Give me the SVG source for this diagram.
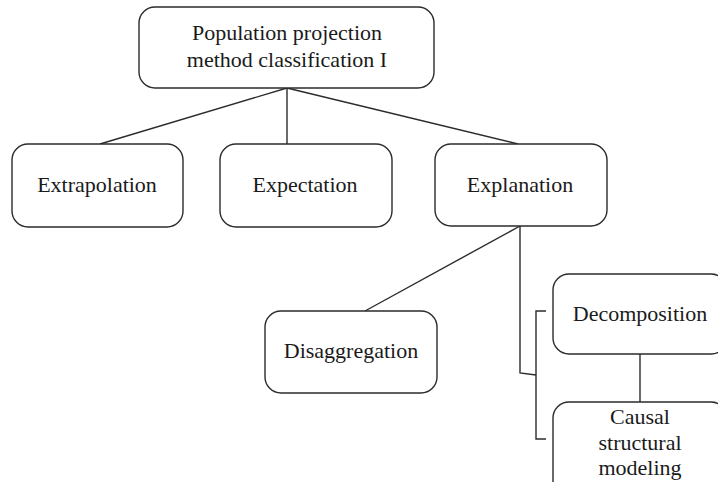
<svg xmlns="http://www.w3.org/2000/svg" width="718" height="482" viewBox="0 0 718 482">
<style>
.box{fill:#fff;stroke:#2b2b2b;stroke-width:1.4}
.ln{fill:none;stroke:#2b2b2b;stroke-width:1.4}
text{font-family:"Liberation Serif","Times New Roman",serif;font-size:22px;fill:#1a1a1a;text-anchor:middle}
</style>
<rect width="718" height="482" fill="#fff"/>
<g id="connectors">
<line class="ln" x1="287" y1="88" x2="100" y2="144"/>
<line class="ln" x1="287" y1="88" x2="287" y2="144"/>
<line class="ln" x1="287" y1="88" x2="518" y2="144"/>
<line class="ln" x1="520" y1="226" x2="365" y2="311"/>
<path class="ln" d="M520 226 V373 L536 375"/>
<path class="ln" d="M546 311 H536 V439 H546"/>
<line class="ln" x1="640" y1="354" x2="640" y2="402"/>
</g>
<g id="n-root">
<rect class="box" x="139" y="7" width="295" height="81" rx="16"/>
<text x="287" y="40">Population projection</text>
<text x="287" y="67">method classification I</text>
</g>
<g id="n-extrapolation">
<rect class="box" x="12" y="144" width="171" height="83" rx="16"/>
<text x="97" y="192">Extrapolation</text>
</g>
<g id="n-expectation">
<rect class="box" x="220" y="144" width="172" height="83" rx="16"/>
<text x="305" y="192">Expectation</text>
</g>
<g id="n-explanation">
<rect class="box" x="435" y="144" width="172" height="82" rx="16"/>
<text x="520" y="192">Explanation</text>
</g>
<g id="n-disaggregation">
<rect class="box" x="265" y="311" width="172" height="82" rx="16"/>
<text x="351" y="358">Disaggregation</text>
</g>
<g id="n-decomposition">
<rect class="box" x="553" y="274" width="174" height="80" rx="16"/>
<text x="640" y="321">Decomposition</text>
</g>
<g id="n-causal">
<rect class="box" x="553" y="402" width="174" height="100" rx="16"/>
<text x="640" y="424">Causal</text>
<text x="640" y="450">structural</text>
<text x="640" y="475">modeling</text>
</g>
</svg>
